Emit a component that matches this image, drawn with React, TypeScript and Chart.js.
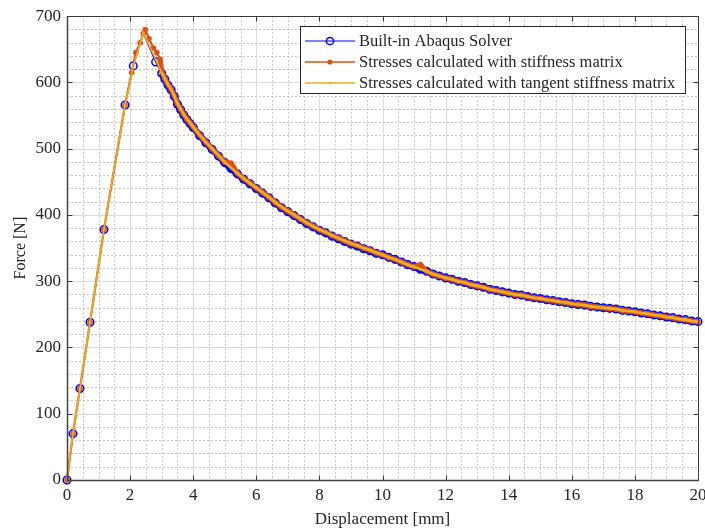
import { useEffect, useRef } from "react";
import { Chart, registerables } from "chart.js";

Chart.register(...registerables);

// ---------- data ----------
const seriesNames = [
  "Built-in Abaqus Solver",
  "Stresses calculated with stiffness matrix",
  "Stresses calculated with tangent stiffness matrix",
];
const seriesColors = ["#0000ff", "#d95319", "#edb120"];

const xAxisTitle = "Displacement [mm]";
const yAxisTitle = "Force [N]";
const xMin = 0;
const xMax = 20;
const xStep = 2;
const xMinorStep = 0.5;
const yMin = 0;
const yMax = 700;
const yStep = 100;
const yMinorStep = 20;

// loading branch (up to the peak)
const abaqusPreDisp = [0, 0.19, 0.41, 0.73, 1.17, 1.84, 2.1, 2.42, 2.81];
const abaqusPreForce = [0, 70, 138, 238, 378, 566, 625, 674, 631];
const abaqusHiddenMarkerDisp = 2.42; // peak increment, its marker is covered by the other series
const stiffPreDisp = [0, 0.19, 0.41, 0.73, 1.17, 1.84, 2.05, 2.18, 2.32, 2.42, 2.48, 2.6, 2.74, 2.85, 2.95];
const stiffPreForce = [0, 70, 138, 238, 378, 566, 615, 645, 660, 674, 680, 666, 652, 645, 635];
const tangentPreDisp = [0, 0.19, 0.41, 0.73, 1.17, 1.84, 2.1, 2.42];
const tangentPreForce = [0, 70, 138, 238, 378, 566, 624, 675];

// softening branch (shared displacement increments)
const softeningDisp = [
  3.0, 3.1, 3.2, 3.3, 3.4, 3.5, 3.6, 3.7, 3.8, 3.9,
  4.0, 4.2, 4.4, 4.6, 4.8, 5.0, 5.2, 5.4, 5.6, 5.8,
  6.0, 6.2, 6.4, 6.6, 6.8, 7.0, 7.2, 7.4, 7.6, 7.8,
  8.0, 8.2, 8.4, 8.6, 8.8, 9.0, 9.2, 9.4, 9.6, 9.8,
  10.0, 10.2, 10.4, 10.6, 10.8, 11.0, 11.2, 11.4, 11.6, 11.8,
  12.0, 12.2, 12.4, 12.6, 12.8, 13.0, 13.2, 13.4, 13.6, 13.8,
  14.0, 14.2, 14.4, 14.6, 14.8, 15.0, 15.2, 15.4, 15.6, 15.8,
  16.0, 16.2, 16.4, 16.6, 16.8, 17.0, 17.2, 17.4, 17.6, 17.8,
  18.0, 18.2, 18.4, 18.6, 18.8, 19.0, 19.2, 19.4, 19.6, 19.8, 20.0,
];
const abaqusSoftForce = [
  614, 605, 596, 589, 579, 567, 559, 551, 544, 538,
  532, 520, 509, 499, 489, 479, 470, 462, 454, 447,
  440, 433, 426, 418, 411, 405, 399, 393, 387, 382,
  377, 373, 368, 364, 360, 356, 353, 349, 346, 342,
  340, 336, 333, 329, 325, 322, 318, 315, 311, 308,
  305, 303, 300, 298, 295, 293, 291, 288, 286, 284,
  282, 280, 279, 277, 275, 274, 272, 271, 269, 268,
  266, 265, 264, 262, 261, 260, 259, 258, 256, 255,
  254, 252, 251, 249, 248, 246, 245, 243, 242, 240, 239,
];
const stiffSoftForce = [
  617, 606, 597, 590, 580, 568, 560, 552, 545, 539,
  533, 521, 510, 500, 490, 480, 478, 463, 455, 448,
  441, 434, 427, 419, 412, 406, 400, 394, 388, 383,
  378, 374, 369, 365, 361, 357, 354, 350, 347, 343,
  340, 336, 333, 329, 325, 322, 325, 315, 311, 308,
  305, 303, 300, 298, 295, 293, 291, 288, 286, 284,
  282, 280, 279, 277, 275, 274, 272, 271, 269, 268,
  266, 265, 264, 262, 261, 260, 259, 258, 256, 255,
  254, 252, 251, 249, 248, 246, 245, 243, 242, 240, 239,
];
const tangentSoftForce = [
  615, 606, 597, 590, 580, 568, 560, 552, 545, 539,
  533, 521, 510, 500, 490, 480, 471, 463, 455, 448,
  441, 434, 427, 419, 412, 406, 400, 394, 388, 383,
  378, 374, 369, 365, 361, 357, 354, 350, 347, 343,
  340, 336, 333, 329, 325, 322, 318, 315, 311, 308,
  305, 303, 300, 298, 295, 293, 291, 288, 286, 284,
  282, 280, 279, 277, 275, 274, 272, 271, 269, 268,
  266, 265, 264, 262, 261, 260, 259, 258, 256, 255,
  254, 252, 251, 249, 248, 246, 245, 243, 242, 240, 239,
];
// increments after this displacement are densely recorded (thick marker band)
const denseFrom = 2.95;

// ---------- helpers ----------
const FONT = '"Liberation Serif", "DejaVu Serif", "Times New Roman", serif';
const TEXT = "#262626";

function toPoints(dx: number[], fy: number[], dx2: number[], fy2: number[]) {
  const pts = dx.map((x, i) => ({ x, y: fy[i] }));
  return pts.concat(dx2.map((x, i) => ({ x, y: fy2[i] })));
}

const gridPlugin = {
  id: "matlabGrid",
  beforeDatasetsDraw(chart: any) {
    const { ctx, chartArea: a, scales } = chart;
    const xs = scales.x;
    const ys = scales.y;
    ctx.save();
    ctx.strokeStyle = "#c4c4c4";
    ctx.lineWidth = 1;
    ctx.setLineDash([2, 2]);
    ctx.beginPath();
    for (let i = 0; xMin + i * xMinorStep <= xMax + 1e-9; i++) {
      const v = xMin + i * xMinorStep;
      if (Math.abs(v / xStep - Math.round(v / xStep)) < 1e-6) continue;
      const px = Math.round(xs.getPixelForValue(v)) + 0.5;
      ctx.moveTo(px, a.top);
      ctx.lineTo(px, a.bottom);
    }
    for (let i = 0; yMin + i * yMinorStep <= yMax + 1e-9; i++) {
      const v = yMin + i * yMinorStep;
      if (Math.abs(v / yStep - Math.round(v / yStep)) < 1e-6) continue;
      const py = Math.round(ys.getPixelForValue(v)) + 0.5;
      ctx.moveTo(a.left, py);
      ctx.lineTo(a.right, py);
    }
    ctx.stroke();
    ctx.setLineDash([]);
    ctx.strokeStyle = "#dadada";
    ctx.beginPath();
    for (let v = xMin; v <= xMax + 1e-9; v += xStep) {
      const px = Math.round(xs.getPixelForValue(v)) + 0.5;
      ctx.moveTo(px, a.top);
      ctx.lineTo(px, a.bottom);
    }
    for (let v = yMin; v <= yMax + 1e-9; v += yStep) {
      const py = Math.round(ys.getPixelForValue(v)) + 0.5;
      ctx.moveTo(a.left, py);
      ctx.lineTo(a.right, py);
    }
    ctx.stroke();
    ctx.restore();
  },
  afterDatasetsDraw(chart: any) {
    const { ctx, chartArea: a, scales } = chart;
    const xs = scales.x;
    const ys = scales.y;
    ctx.save();
    ctx.strokeStyle = "#3a3a3a";
    ctx.lineWidth = 1;
    const L = Math.round(a.left) + 0.5;
    const R = Math.round(a.right) + 0.5;
    const T = Math.round(a.top) + 0.5;
    const B = Math.round(a.bottom) + 0.5;
    ctx.beginPath();
    ctx.rect(L, T, R - L, B - T);
    const tl = 5;
    for (let v = xMin; v <= xMax + 1e-9; v += xStep) {
      const px = Math.round(xs.getPixelForValue(v)) + 0.5;
      ctx.moveTo(px, B);
      ctx.lineTo(px, B - tl);
      ctx.moveTo(px, T);
      ctx.lineTo(px, T + tl);
    }
    for (let v = yMin; v <= yMax + 1e-9; v += yStep) {
      const py = Math.round(ys.getPixelForValue(v)) + 0.5;
      ctx.moveTo(L, py);
      ctx.lineTo(L + tl, py);
      ctx.moveTo(R, py);
      ctx.lineTo(R - tl, py);
    }
    ctx.stroke();
    ctx.strokeStyle = "#444";
    ctx.lineWidth = 1.5;
    ctx.beginPath();
    ctx.moveTo(L, T);
    ctx.lineTo(L, B);
    ctx.lineTo(R, B);
    ctx.stroke();
    ctx.restore();
  },
};

const legendPlugin = {
  id: "matlabLegend",
  afterDraw(chart: any) {
    const { ctx } = chart;
    const bx = 300.5;
    const by = 26.5;
    const bw = 385;
    const bh = 67;
    ctx.save();
    ctx.fillStyle = "#ffffff";
    ctx.fillRect(bx, by, bw, bh);
    ctx.strokeStyle = "#262626";
    ctx.lineWidth = 1;
    ctx.strokeRect(bx, by, bw, bh);
    const rows = [41, 62, 83];
    const legendLineWidths = [1.2, 1.5, 1.5];
    const legendMarkerRadius = [3.6, 2.6, 1.3];
    chart.data.datasets.forEach((ds: any, i: number) => {
      const y = rows[i];
      ctx.strokeStyle = seriesColors[i];
      ctx.lineWidth = legendLineWidths[i];
      ctx.beginPath();
      ctx.moveTo(305, y);
      ctx.lineTo(355, y);
      ctx.stroke();
      ctx.beginPath();
      ctx.arc(330, y, legendMarkerRadius[i], 0, Math.PI * 2);
      if (i === 0) {
        ctx.lineWidth = 1.5;
        ctx.stroke();
      } else {
        ctx.fillStyle = seriesColors[i];
        ctx.fill();
      }
      ctx.fillStyle = TEXT;
      ctx.font = `16.5px ${FONT}`;
      ctx.textAlign = "left";
      ctx.textBaseline = "middle";
      ctx.fillText(ds.label, 359, y + 1);
    });
    ctx.restore();
  },
};

export default function App() {
  const canvasRef = useRef<HTMLCanvasElement | null>(null);

  useEffect(() => {
    document.body.style.margin = "0";
    const canvas = canvasRef.current;
    if (!canvas) return;
    const chart = new Chart(canvas, {
      type: "scatter",
      data: {
        datasets: [
          {
            label: seriesNames[0],
            data: toPoints(abaqusPreDisp, abaqusPreForce, softeningDisp, abaqusSoftForce),
            showLine: true,
            borderColor: seriesColors[0],
            borderWidth: 1.2,
            segment: {
              borderWidth: (c: any) => (c.p0.parsed.x >= denseFrom ? 6.5 : 1.2),
            },
            pointRadius: (c: any) =>
              c.raw && c.raw.x === abaqusHiddenMarkerDisp ? 0 : 3.8,
            pointBorderWidth: 1.5,
            pointBorderColor: seriesColors[0],
            pointBackgroundColor: "rgba(0,0,0,0)",
            pointStyle: "circle",
            clip: false,
            order: 3,
          },
          {
            label: seriesNames[1],
            data: toPoints(stiffPreDisp, stiffPreForce, softeningDisp, stiffSoftForce),
            showLine: true,
            borderColor: seriesColors[1],
            borderWidth: 2,
            segment: {
              borderWidth: (c: any) => (c.p0.parsed.x >= denseFrom ? 5.2 : 2.2),
            },
            pointRadius: 2.8,
            pointBorderWidth: 0,
            pointBackgroundColor: seriesColors[1],
            pointBorderColor: seriesColors[1],
            clip: false,
            order: 2,
          },
          {
            label: seriesNames[2],
            data: toPoints(tangentPreDisp, tangentPreForce, softeningDisp, tangentSoftForce),
            showLine: true,
            borderColor: seriesColors[2],
            borderWidth: 1.6,
            segment: {
              borderWidth: (c: any) => (c.p0.parsed.x >= denseFrom ? 2.6 : 1.6),
            },
            pointRadius: 1.3,
            pointBorderWidth: 0,
            pointBackgroundColor: seriesColors[2],
            pointBorderColor: seriesColors[2],
            clip: false,
            order: 1,
          },
        ],
      },
      options: {
        responsive: false,
        animation: false,
        devicePixelRatio: 1,
        layout: { padding: { top: 15, right: 22, left: 0, bottom: 0 } },
        plugins: {
          legend: { display: false },
          tooltip: { enabled: false },
        },
        scales: {
          x: {
            type: "linear",
            min: xMin,
            max: xMax,
            grid: { display: false, drawTicks: false },
            border: { display: false },
            ticks: {
              stepSize: xStep,
              padding: 5,
              color: TEXT,
              font: { family: FONT, size: 17 },
              maxRotation: 0,
            },
            title: {
              display: true,
              text: xAxisTitle,
              color: TEXT,
              font: { family: FONT, size: 17 },
              padding: { top: 0, bottom: 0 },
            },
            afterFit: (s: any) => {
              s.height = 50;
            },
          },
          y: {
            type: "linear",
            min: yMin,
            max: yMax,
            grid: { display: false, drawTicks: false },
            border: { display: false },
            ticks: {
              stepSize: yStep,
              padding: 6,
              color: TEXT,
              font: { family: FONT, size: 17 },
            },
            title: {
              display: true,
              text: yAxisTitle,
              color: TEXT,
              font: { family: FONT, size: 16 },
              padding: { top: 11, bottom: 0 },
            },
            afterFit: (s: any) => {
              s.width = 67;
            },
          },
        },
      },
      plugins: [gridPlugin, legendPlugin],
    });
    return () => chart.destroy();
  }, []);

  return (
    <div
      style={{
        position: "fixed",
        left: 0,
        top: 0,
        width: 705,
        height: 530,
        overflow: "hidden",
        background: "#ffffff",
      }}
    >
      <canvas ref={canvasRef} width={720} height={530} style={{ display: "block" }} />
    </div>
  );
}
